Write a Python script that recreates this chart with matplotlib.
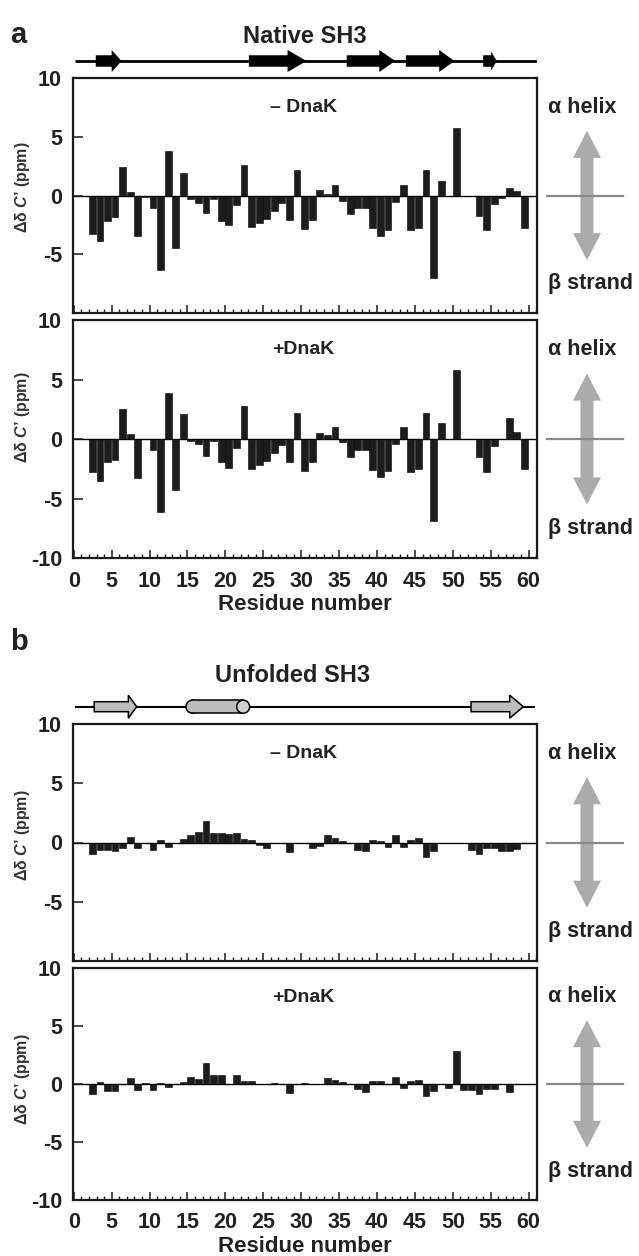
import numpy as np
import matplotlib
matplotlib.use("Agg")
import matplotlib.pyplot as plt
from matplotlib.patches import FancyArrow, Ellipse, Rectangle, Polygon
from matplotlib.ticker import MultipleLocator

nan = np.nan

# ---------------- data ----------------
residues = [2, 3, 4, 5, 6, 7, 8, 9, 10, 11, 12, 13, 14, 15, 16, 17, 18, 19, 20,
            21, 22, 23, 24, 25, 26, 27, 28, 29, 30, 31, 32, 33, 34, 35, 36, 37,
            38, 39, 40, 41, 42, 43, 44, 45, 46, 47, 48, 49, 50, 51, 52, 53, 54,
            55, 56, 57, 58, 59]

native_minus = [-3.3, -3.85, -2.15, -1.87, 2.4, 0.28, -3.45, -0.1, -1.1, -6.3,
                3.8, -4.5, 1.95, -0.3, -0.6, -1.47, -0.3, -2.15, -2.55, -0.85,
                2.63, -2.66, -2.32, -1.98, -1.3, -0.6, -2.07, 2.15, -2.83, -2.07,
                0.48, 0.11, 0.88, -0.45, -1.59, -1.1, -1.1, -2.75, -3.45, -2.97,
                -0.54, 0.88, -2.95, -2.78, 2.15, -7.05, 1.25, nan, 5.75, nan,
                nan, -1.76, -2.97, -0.71, -0.23, 0.6, 0.37, -2.78]

native_plus = [-2.75, -3.54, -1.97, -1.74, 2.56, 0.42, -3.31, nan, -0.96, -6.12,
               3.9, -4.3, 2.1, -0.17, -0.39, -1.4, -0.17, -1.94, -2.42, -0.73,
               2.78, -2.53, -2.19, -1.85, -1.18, -0.48, -1.94, 2.22, -2.72, -1.97,
               0.53, 0.31, 0.98, -0.25, -1.52, -0.93, -0.93, -2.64, -3.2, -2.72,
               -0.39, 0.98, -2.75, -2.53, 2.22, -6.91, 1.32, nan, 5.79, nan,
               nan, -1.52, -2.75, -0.59, nan, 1.77, 0.62, -2.53]

unfolded_minus = [-0.95, -0.6, -0.62, -0.75, -0.5, 0.5, -0.48, nan, -0.6, 0.17,
                  -0.34, nan, 0.28, 0.65, 0.87, 1.83, 0.77, 0.77, 0.72, 0.77,
                  0.31, 0.22, -0.17, -0.5, nan, nan, -0.84, nan, nan, -0.48,
                  -0.32, 0.65, 0.35, 0.12, nan, -0.6, -0.75, 0.24, 0.16, -0.34,
                  0.64, -0.36, 0.21, 0.35, -1.2, -0.73, nan, nan, nan, nan,
                  -0.6, -0.96, -0.5, -0.5, -0.7, -0.7, -0.55, nan]

unfolded_plus = [-0.88, 0.18, -0.6, -0.6, nan, 0.55, -0.5, 0.12, -0.52, 0.12,
                 -0.3, nan, 0.18, 0.63, 0.46, 1.77, 0.74, 0.74, nan, 0.74,
                 0.3, 0.26, 0.03, nan, 0.11, nan, -0.8, nan, 0.11, nan,
                 nan, 0.54, 0.37, 0.18, nan, -0.43, -0.71, 0.26, 0.26, nan,
                 0.63, -0.31, 0.3, 0.34, -1.06, -0.6, nan, -0.31, 2.87, -0.51,
                 -0.51, -0.88, -0.43, -0.43, nan, -0.68, nan, nan]

# secondary structure elements (residue ranges)
native_strands = [(2.9, 6.3), (23.1, 30.7), (36.0, 42.4), (43.8, 50.2), (54.0, 55.8)]
unfolded_strands = [(2.7, 8.3), (52.4, 59.3)]
unfolded_helices = [(14.8, 23.2)]

x_major_ticks = [0, 5, 10, 15, 20, 25, 30, 35, 40, 45, 50, 55, 60]
y_ticks = [-10, -5, 0, 5, 10]
y_ticklabels_full = ["-10", "-5", "0", "5", "10"]
y_ticklabels_top = ["", "-5", "0", "5", "10"]

# ---------------- style ----------------
plt.rcParams["font.family"] = ["Liberation Sans", "DejaVu Sans"]
plt.rcParams["font.weight"] = "bold"
plt.rcParams["axes.unicode_minus"] = False
plt.rcParams["mathtext.fontset"] = "custom"
plt.rcParams["mathtext.it"] = "Liberation Sans:bold:italic"
plt.rcParams["mathtext.rm"] = "Liberation Sans:bold"

W, H = 639, 1256
fig = plt.figure(figsize=(W / 100, H / 100), dpi=100)
fig.patch.set_facecolor("white")

XLIM = (-0.1, 61.1)
BAR_COLOR = "#1c1c1c"
FRAME = "#1a1a1a"
GRAY = "#bdbdbd"
ARROW_GRAY = "#ababab"


def px_rect(l, t, r, b):
    return [l / W, 1 - b / H, (r - l) / W, (b - t) / H]


def data_axes(rect, values, show_x, ylabels, label_text, ylab_y):
    ax = fig.add_axes(px_rect(*rect))
    ax.set_xlim(XLIM)
    ax.set_ylim(-10, 10)
    for s in ax.spines.values():
        s.set_linewidth(1.6)
        s.set_color(FRAME)
        s.set_zorder(5)
    ax.axhline(0, color="black", lw=1.0, zorder=1)
    ax.bar(residues, values, width=0.9, align="edge", color=BAR_COLOR,
           edgecolor="black", linewidth=0.4, zorder=2)
    ax.set_xticks(x_major_ticks)
    ax.xaxis.set_minor_locator(MultipleLocator(1))
    ax.tick_params(axis="x", which="major", direction="in", length=6, width=1.1,
                   top=False, bottom=True, labelbottom=show_x, labelsize=15.5,
                   pad=9, color=FRAME, labelcolor="#222222")
    ax.tick_params(axis="x", which="minor", direction="in", length=3.2, width=1.0,
                   top=False, bottom=True, color=FRAME)
    ax.set_yticks(y_ticks)
    ax.set_yticklabels(ylabels)
    ax.tick_params(axis="y", which="major", direction="in", length=7.5, width=1.1,
                   left=True, right=False, labelsize=15.5, pad=8, color=FRAME,
                   labelcolor="#222222")
    for lab in ax.get_xticklabels() + ax.get_yticklabels():
        lab.set_fontweight("bold")
    ax.set_ylabel("Δδ $C$’ (ppm)", fontsize=11.5, fontweight="bold", color="#333333")
    ax.yaxis.set_label_coords(-0.088, ylab_y)
    if show_x:
        ax.set_xlabel("Residue number", fontsize=16, fontweight="bold",
                      color="#222222", labelpad=2)
    ax.text(0.497, 7.5, label_text, transform=ax.get_yaxis_transform(),
            ha="center", va="center", fontsize=14, fontweight="bold", color="#222222")
    return ax


a1 = data_axes((73, 78, 537, 313), native_minus, False, y_ticklabels_top, "– DnaK", 0.536)
a2 = data_axes((73, 320, 537, 558), native_plus, True, y_ticklabels_full, "+DnaK", 0.59)
b1 = data_axes((73, 724, 537, 961), unfolded_minus, False, y_ticklabels_top, "– DnaK", 0.53)
b2 = data_axes((73, 968, 537, 1200), unfolded_plus, True, y_ticklabels_full, "+DnaK", 0.52)

# ---------------- secondary structure tracks ----------------
px_per_res = 464 / (XLIM[1] - XLIM[0])


def track_axes(rect):
    ax = fig.add_axes(px_rect(*rect))
    ax.set_xlim(XLIM)
    ax.set_ylim(-20, 20)
    ax.set_facecolor("none")
    ax.axis("off")
    return ax


ta = track_axes((73, 41, 537, 81))
ta.plot([0.16, XLIM[1]], [0, 0], color="black", lw=2.0, zorder=1,
        solid_capstyle="butt")
native_heads = [1.3, 2.5, 2.1, 2.0, 0.75]
native_head_w = [22, 22, 22, 22, 19]
for (s, e), hl, hw in zip(native_strands, native_heads, native_head_w):
    ta.add_patch(FancyArrow(s, 0, e - s, 0, width=11.5, head_width=hw,
                            head_length=hl, length_includes_head=True,
                            color="black", lw=0, zorder=3))

tb = track_axes((73, 686.7, 537, 726.7))
tb.plot([0.16, 60.8], [0, 0], color="black", lw=1.5, zorder=1,
        solid_capstyle="butt")
unfolded_heads = [1.1, 1.8]
for (s, e), hl in zip(unfolded_strands, unfolded_heads):
    tb.add_patch(FancyArrow(s, 0, e - s, 0, width=10, head_width=23,
                            head_length=hl, length_includes_head=True,
                            fc=GRAY, ec="black", lw=1.1, zorder=3))
cap = 13 / px_per_res
for h0, h1 in unfolded_helices:
    c0, c1 = h0 + cap / 2, h1 - cap / 2
    tb.add_patch(Ellipse((c0, 0), cap, 13, fc=GRAY, ec="black", lw=1.1, zorder=3))
    tb.add_patch(Rectangle((c0, -6.5), c1 - c0, 13, fc=GRAY, ec="none", zorder=4))
    tb.plot([c0, c1], [6.5, 6.5], color="black", lw=1.1, zorder=5)
    tb.plot([c0, c1], [-6.5, -6.5], color="black", lw=1.1, zorder=5)
    tb.add_patch(Ellipse((c1, 0), cap, 13, fc="#d0d0d0", ec="black", lw=1.1, zorder=6))

# ---------------- overlay: titles, right-side arrows ----------------
ov = fig.add_axes([0, 0, 1, 1])
ov.set_xlim(0, W)
ov.set_ylim(H, 0)
ov.set_facecolor("none")
ov.axis("off")


def y_px(ax, v):
    return H - ax.transData.transform((0, v))[1]


ov.text(10, 43, "a", fontsize=21, fontweight="bold", ha="left", va="baseline", color="#222222")
ov.text(305, 43, "Native SH3", fontsize=17, fontweight="bold", ha="center",
        va="baseline", color="#222222")
ov.text(10, 650, "b", fontsize=21, fontweight="bold", ha="left", va="baseline", color="#222222")
ov.text(293, 681.5, "Unfolded SH3", fontsize=17, fontweight="bold", ha="center",
        va="baseline", color="#222222")

cx = 587
for ax in (a1, a2, b1, b2):
    top = y_px(ax, 5.5)
    bot = y_px(ax, -5.5)
    hw, sw, hl = 14, 6.5, 27
    verts = [(cx, top), (cx + hw, top + hl), (cx + sw, top + hl), (cx + sw, bot - hl),
             (cx + hw, bot - hl), (cx, bot), (cx - hw, bot - hl), (cx - sw, bot - hl),
             (cx - sw, top + hl), (cx - hw, top + hl)]
    ov.add_patch(Polygon(verts, closed=True, fc=ARROW_GRAY, ec="none"))
    yz = y_px(ax, 0)
    ov.plot([547, 623], [yz, yz], color="#8a8a8a", lw=1.6)
    ov.text(548, y_px(ax, 7.5), "α helix", fontsize=15.5, fontweight="bold",
            ha="left", va="center", color="#222222")
    ov.text(548, y_px(ax, -7.5), "β strand", fontsize=15.5, fontweight="bold",
            ha="left", va="center", color="#222222")

fig.savefig("out.png", dpi=100)
